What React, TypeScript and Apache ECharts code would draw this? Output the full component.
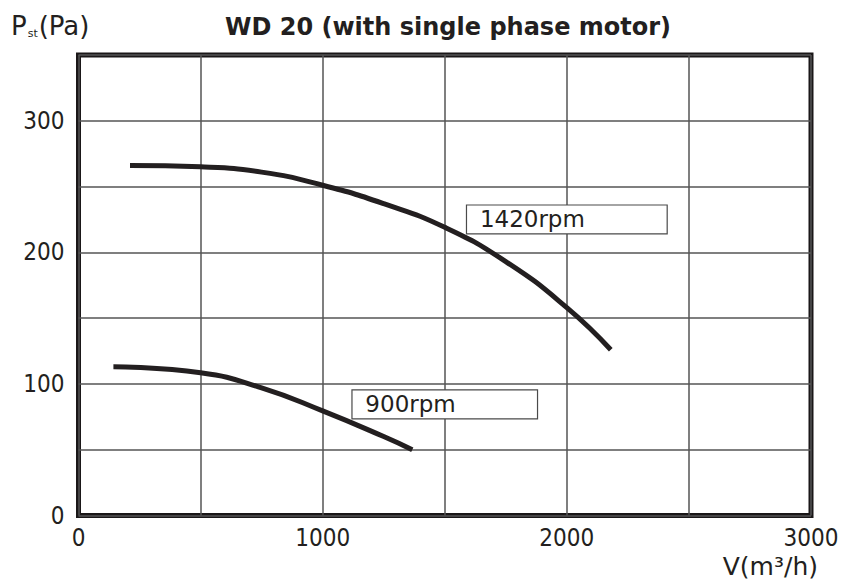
import React, { useEffect, useRef } from "react";
import * as echarts from "echarts";

const titleText = "WD 20 (with single phase motor)";
const flow1420 = [211, 500, 750, 1000, 1250, 1500, 1750, 2000, 2180];
const pres1420 = [266, 265, 261, 251, 237, 219, 193, 158, 126];
const flow900 = [143, 500, 750, 1000, 1250, 1367];
const pres900 = [113, 108.5, 97, 79.5, 60, 50];
const xTickLabels = [0, 1000, 2000, 3000];
const yTickLabels = [0, 100, 200, 300];
const label1420 = "1420rpm";
const label900 = "900rpm";

const INK = "#231f20";
const TICK_FONT = '"DejaVu Sans Condensed", "DejaVu Sans", sans-serif';
const TEXT_FONT = '"DejaVu Sans", sans-serif';

export default function App() {
  const ref = useRef<HTMLDivElement>(null);
  useEffect(() => {
    if (!ref.current) return;
    const chart = echarts.init(ref.current, undefined, { renderer: "svg" });
    const d1420 = flow1420.map((f, i) => [f, pres1420[i]]);
    const d900 = flow900.map((f, i) => [f, pres900[i]]);
    const boxLabel = (text: string) => ({
      show: true,
      position: "insideLeft",
      distance: 14,
      color: INK,
      fontFamily: TEXT_FONT,
      fontSize: 23,
      formatter: text,
    });
    const boxStyle = { color: "#ffffff", opacity: 1, borderColor: "#4a4a4a", borderWidth: 1.2 };
    chart.setOption({
      animation: false,
      backgroundColor: "#ffffff",
      grid: {
        left: 78.5,
        right: 35,
        top: 55,
        bottom: 63.5,
        show: true,
        borderColor: "#1a1718",
        borderWidth: 5,
        backgroundColor: "transparent",
      },
      xAxis: {
        type: "value",
        min: 0,
        max: 3000,
        interval: 500,
        axisLine: { show: false },
        axisTick: { show: false },
        splitLine: { show: true, lineStyle: { color: "#555555", width: 1.5 } },
        axisLabel: {
          margin: 10,
          color: INK,
          fontFamily: TICK_FONT,
          fontSize: 24,
          formatter: (v: number) => (xTickLabels.includes(v) ? String(v) : ""),
        },
      },
      yAxis: {
        type: "value",
        min: 0,
        max: 350,
        interval: 50,
        axisLine: { show: false },
        axisTick: { show: false },
        splitLine: { show: true, lineStyle: { color: "#555555", width: 1.5 } },
        axisLabel: {
          margin: 14,
          color: INK,
          fontFamily: TICK_FONT,
          fontSize: 24,
          formatter: (v: number) => (yTickLabels.includes(v) ? String(v) : ""),
        },
      },
      series: [
        {
          type: "line",
          data: d1420,
          smooth: 0.5,
          symbol: "none",
          lineStyle: { color: INK, width: 5 },
          markArea: {
            silent: true,
            itemStyle: boxStyle,
            label: boxLabel(label1420),
            data: [[{ coord: [1589, 236] }, { coord: [2411, 214] }]],
          },
        },
        {
          type: "line",
          data: d900,
          smooth: 0.5,
          symbol: "none",
          lineStyle: { color: INK, width: 5 },
          markArea: {
            silent: true,
            itemStyle: boxStyle,
            label: boxLabel(label900),
            data: [[{ coord: [1120, 95.5] }, { coord: [1880, 73.4] }]],
          },
        },
      ],
      graphic: [
        {
          type: "text",
          x: 448,
          y: 27,
          style: {
            text: titleText,
            font: `bold 24px ${TEXT_FONT}`,
            fill: INK,
            align: "center",
            verticalAlign: "middle",
          },
        },
        {
          type: "text",
          x: 11,
          y: 7,
          style: {
            text: "{a|P}{s|st}{a|(Pa)}",
            fill: INK,
            align: "left",
            verticalAlign: "top",
            rich: {
              a: { fontFamily: TEXT_FONT, fontSize: 26, lineHeight: 32, fill: INK, verticalAlign: "bottom" },
              s: { fontFamily: TEXT_FONT, fontSize: 11, lineHeight: 12, fill: INK, verticalAlign: "bottom", padding: [0, 1, 0, 1] },
            },
          },
        },
        {
          type: "text",
          x: 818,
          y: 566,
          style: {
            text: "V(m³/h)",
            font: `25px ${TEXT_FONT}`,
            fill: INK,
            align: "right",
            verticalAlign: "middle",
          },
        },
      ],
    });
    return () => chart.dispose();
  }, []);
  return (
    <div style={{ position: "absolute", left: 0, top: 0 }}>
      <div ref={ref} style={{ width: 846, height: 579 }} />
    </div>
  );
}
